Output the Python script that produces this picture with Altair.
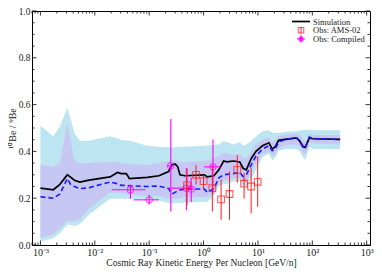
import altair as alt
import pandas as pd

# ---------------- data ----------------
energy = [0.001, 0.00173, 0.00228, 0.00313, 0.00358, 0.00422, 0.00533, 0.00782, 0.0191, 0.0261,
          0.0307, 0.0378, 0.0434, 0.092, 0.151, 0.228, 0.261, 0.300, 0.334, 0.368,
          0.452, 1.03, 1.18, 1.55, 1.91, 2.34, 2.68, 3.53, 4.64, 5.33,
          6.11, 7.50, 9.21, 12.1, 15.9, 18.3, 20.9, 24.0, 31.6, 51.2,
          58.6, 67.1, 74.1, 88.4, 101, 325]
sim = [0.243, 0.236, 0.259, 0.300, 0.290, 0.277, 0.269, 0.277, 0.291, 0.310,
       0.305, 0.305, 0.284, 0.289, 0.296, 0.314, 0.342, 0.346, 0.335, 0.300,
       0.296, 0.300, 0.291, 0.296, 0.321, 0.359, 0.355, 0.359, 0.355, 0.328,
       0.321, 0.369, 0.400, 0.424, 0.437, 0.410, 0.420, 0.447, 0.451, 0.458,
       0.444, 0.420, 0.417, 0.458, 0.454, 0.451]
dashed = [0.206, 0.200, 0.218, 0.284, 0.259, 0.250, 0.241, 0.245, 0.269, 0.262,
          0.255, 0.255, 0.253, 0.250, 0.252, 0.241, 0.218, 0.225, 0.232, 0.235,
          0.239, 0.239, 0.225, 0.241, 0.287, 0.300, 0.302, 0.305, 0.310, 0.293,
          0.300, 0.342, 0.380, 0.410, 0.424, 0.403, 0.410, 0.441, 0.450, 0.458,
          0.445, 0.424, 0.414, 0.461, 0.455, 0.451]
outer_hi = [0.51, 0.465, 0.506, 0.588, 0.54, 0.479, 0.444, 0.445, 0.465, 0.455,
            0.45, 0.447, 0.445, 0.424, 0.42, 0.418, 0.417, 0.418, 0.42, 0.42,
            0.42, 0.424, 0.425, 0.428, 0.43, 0.444, 0.44, 0.43, 0.44, 0.424,
            0.43, 0.444, 0.465, 0.486, 0.49, 0.48, 0.48, 0.479, 0.483, 0.486,
            0.49, 0.49, 0.492, 0.492, 0.49, 0.49]
outer_lo = [0.015, 0.03, 0.05, 0.088, 0.085, 0.081, 0.09, 0.13, 0.198, 0.198,
            0.198, 0.198, 0.198, 0.198, 0.19, 0.18, 0.177, 0.178, 0.18, 0.18,
            0.182, 0.185, 0.185, 0.21, 0.252, 0.26, 0.262, 0.27, 0.273, 0.255,
            0.252, 0.28, 0.321, 0.376, 0.39, 0.362, 0.375, 0.403, 0.41, 0.41,
            0.40, 0.376, 0.362, 0.42, 0.41, 0.41]
inner_hi = [0.344, 0.335, 0.348, 0.52, 0.45, 0.362, 0.348, 0.35, 0.355, 0.355,
            0.35, 0.348, 0.346, 0.342, 0.35, 0.36, 0.36, 0.36, 0.36, 0.355,
            0.355, 0.36, 0.36, 0.37, 0.38, 0.395, 0.39, 0.385, 0.39, 0.37,
            0.37, 0.40, 0.43, 0.45, 0.46, 0.44, 0.445, 0.465, 0.47, 0.475,
            0.47, 0.45, 0.44, 0.475, 0.47, 0.47]
inner_lo = [0.03, 0.045, 0.07, 0.105, 0.10, 0.10, 0.11, 0.155, 0.225, 0.222,
            0.22, 0.218, 0.216, 0.21, 0.21, 0.20, 0.198, 0.198, 0.20, 0.20,
            0.205, 0.205, 0.205, 0.23, 0.265, 0.275, 0.278, 0.285, 0.29, 0.27,
            0.27, 0.31, 0.35, 0.39, 0.40, 0.38, 0.39, 0.415, 0.425, 0.43,
            0.42, 0.395, 0.385, 0.44, 0.435, 0.43]

ams_E = [0.497, 0.729, 1.0, 1.45, 2.10, 3.0, 4.17, 5.56, 7.50, 9.89]
ams_v = [0.255, 0.300, 0.273, 0.243, 0.195, 0.218, 0.321, 0.262, 0.250, 0.270]
ams_lo = [0.170, 0.259, 0.239, 0.143, 0.108, 0.108, 0.266, 0.198, 0.136, 0.163]
ams_hi = [0.328, 0.342, 0.300, 0.342, 0.280, 0.314, 0.383, 0.307, 0.328, 0.376]

cmp_E = [0.0452, 0.1, 0.25, 0.483, 0.593, 1.49]
cmp_v = [0.236, 0.193, 0.338, 0.243, 0.239, 0.334]
cmp_lo = [0.198, 0.173, 0.143, 0.149, 0.184, 0.218]
cmp_hi = [0.259, 0.214, 0.538, 0.328, 0.287, 0.451]
cmp_Elo = [0.0204, 0.0518, 0.212, 0.228, 0.55, 1.03]
cmp_Ehi = [0.0859, 0.151, 0.279, 0.637, 0.64, 2.04]

x_major = [0.001, 0.01, 0.1, 1, 10, 100, 1000]
x_minor = [m * 10.0 ** k for k in range(-4, 3) for m in range(2, 10)
           if 7e-4 <= m * 10.0 ** k <= 1.15e3]
y_major = [0.0, 0.2, 0.4, 0.6, 0.8, 1.0]
y_minor = [0.05, 0.1, 0.15, 0.25, 0.3, 0.35, 0.45, 0.5, 0.55,
           0.65, 0.7, 0.75, 0.85, 0.9, 0.95]

legend_labels = ["Simulation", "Obs: AMS-02", "Obs: Compiled"]

# ---------------- chart ----------------
W, H = 338, 234
FONT = "Liberation Serif"
RED = "#ff1a1a"
MAG = "#ff00ff"

xs = alt.Scale(type="log", domain=[7e-4, 1.15e3], nice=False)
ys = alt.Scale(domain=[0, 1], nice=False)

label_expr = ("datum.value < 0.005 ? '10⁻³' : datum.value < 0.05 ? '10⁻²' : "
              "datum.value < 0.5 ? '10⁻¹' : datum.value < 5 ? '10⁰' : "
              "datum.value < 50 ? '10¹' : datum.value < 500 ? '10²' : '10³'")

xaxis = alt.Axis(values=x_major, labelExpr=label_expr,
                 title="Cosmic Ray Kinetic Energy Per Nucleon [GeV/n]",
                 tickSize=0, domain=False, grid=False, labelFontSize=10,
                 titleFontSize=9.5, titleFontWeight="normal", labelPadding=2,
                 titlePadding=0, labelOverlap=False, labelFlush=False,
                 labelColor="#222", titleColor="#222")
yaxis = alt.Axis(values=y_major, format=".1f", title="¹⁰Be / ⁹Be",
                 tickSize=0, domain=False, grid=False, labelFontSize=9.5,
                 titleFontSize=10, titleFontWeight="normal", labelPadding=2,
                 titlePadding=1, labelColor="#222", titleColor="#222")

sim_df = pd.DataFrame({"E": energy, "sim": sim, "dash": dashed,
                       "olo": outer_lo, "ohi": outer_hi,
                       "ilo": inner_lo, "ihi": inner_hi})
ams_df = pd.DataFrame({"E": ams_E, "v": ams_v, "lo": ams_lo, "hi": ams_hi})
cmp_df = pd.DataFrame({"E": cmp_E, "v": cmp_v, "lo": cmp_lo, "hi": cmp_hi,
                       "Elo": cmp_Elo, "Ehi": cmp_Ehi})


def X(f):
    return alt.X(f, type="quantitative", scale=xs, axis=xaxis)


def Y(f):
    return alt.Y(f, type="quantitative", scale=ys, axis=yaxis)


outer = alt.Chart(sim_df).mark_area(color="#bde4f1", opacity=1).encode(
    x=X("E"), y=Y("olo"), y2="ohi")
inner = alt.Chart(sim_df).mark_area(color="#c6c8f3", opacity=1).encode(
    x=X("E"), y=Y("ilo"), y2="ihi")
sim_line = alt.Chart(sim_df).mark_line(color="black", strokeWidth=1.7).encode(
    x=X("E"), y=Y("sim"))
dash_line = alt.Chart(sim_df).mark_line(color="#1a1aff", strokeWidth=1.6,
                                        strokeDash=[5, 3]).encode(
    x=X("E"), y=Y("dash"))

cmp_yerr = alt.Chart(cmp_df).mark_rule(color=MAG, strokeWidth=1.1).encode(
    x=X("E"), y=Y("lo"), y2="hi")
cmp_xerr = alt.Chart(cmp_df).mark_rule(color=MAG, strokeWidth=1.1).encode(
    x=X("Elo"), x2="Ehi", y=Y("v"))
cmp_pts = alt.Chart(cmp_df).mark_point(shape="circle", color=MAG, filled=False,
                                       size=40, strokeWidth=1.1).encode(
    x=X("E"), y=Y("v"))

ams_err = alt.Chart(ams_df).mark_rule(color=RED, strokeWidth=1).encode(
    x=X("E"), y=Y("lo"), y2="hi")
ams_pts = alt.Chart(ams_df).mark_point(shape="square", color=RED, filled=False,
                                       size=45, strokeWidth=1.1).encode(
    x=X("E"), y=Y("v"))

# inward ticks on all four sides
xmaj_df = pd.DataFrame({"t": x_major})
xmin_df = pd.DataFrame({"t": x_minor})
ymaj_df = pd.DataFrame({"t": y_major})
ymin_df = pd.DataFrame({"t": y_minor})
tick_layers = []
for df, ln in ((xmaj_df, 4.5), (xmin_df, 2.5)):
    tick_layers.append(alt.Chart(df).mark_rule(color="black", strokeWidth=0.8).encode(
        x=X("t"), y=alt.value(H), y2=alt.value(H - ln)))
    tick_layers.append(alt.Chart(df).mark_rule(color="black", strokeWidth=0.8).encode(
        x=X("t"), y=alt.value(0), y2=alt.value(ln)))
for df, ln in ((ymaj_df, 4.5), (ymin_df, 2.5)):
    tick_layers.append(alt.Chart(df).mark_rule(color="black", strokeWidth=0.8).encode(
        y=Y("t"), x=alt.value(0), x2=alt.value(ln)))
    tick_layers.append(alt.Chart(df).mark_rule(color="black", strokeWidth=0.8).encode(
        y=Y("t"), x=alt.value(W), x2=alt.value(W - ln)))

# legend (top right, inside the frame)
LX, LT = 281, 260
rows = [10.5, 19.2, 27.9]
leg = []
for lab, ry in zip(legend_labels, rows):
    leg.append(alt.Chart(pd.DataFrame({"label": [lab]})).mark_text(
        align="left", baseline="middle", font=FONT, fontSize=8.5, color="#222").encode(
        x=alt.value(LX), y=alt.value(ry), text="label:N"))
one = pd.DataFrame({"k": [0]})
leg.append(alt.Chart(one).mark_rule(color="black", strokeWidth=1.7).encode(
    x=alt.value(LT), x2=alt.value(LT + 18), y=alt.value(rows[0])))
leg.append(alt.Chart(one).mark_rule(color=RED, strokeWidth=1).encode(
    x=alt.value(LT + 9), y=alt.value(rows[1] - 3.5), y2=alt.value(rows[1] + 3.5)))
leg.append(alt.Chart(one).mark_point(shape="square", color=RED, filled=False,
                                     size=30, strokeWidth=1.1).encode(
    x=alt.value(LT + 9), y=alt.value(rows[1])))
leg.append(alt.Chart(one).mark_rule(color=MAG, strokeWidth=1).encode(
    x=alt.value(LT + 9), y=alt.value(rows[2] - 4), y2=alt.value(rows[2] + 4)))
leg.append(alt.Chart(one).mark_rule(color=MAG, strokeWidth=1).encode(
    x=alt.value(LT + 5), x2=alt.value(LT + 13), y=alt.value(rows[2])))
leg.append(alt.Chart(one).mark_point(shape="circle", color=MAG, filled=True,
                                     opacity=0.8, size=28).encode(
    x=alt.value(LT + 9), y=alt.value(rows[2])))

chart = alt.layer(
    outer, inner, sim_line, dash_line,
    cmp_xerr, cmp_yerr, cmp_pts, ams_err, ams_pts,
    *tick_layers, *leg
).properties(
    width=W, height=H,
    autosize=alt.AutoSizeParams(type="none"),
    padding={"left": 24, "top": 3, "right": 4, "bottom": 23},
).configure(font=FONT).configure_view(stroke="black", strokeWidth=1)

chart.save("out.html", embed_options={"renderer": "svg", "actions": False})
